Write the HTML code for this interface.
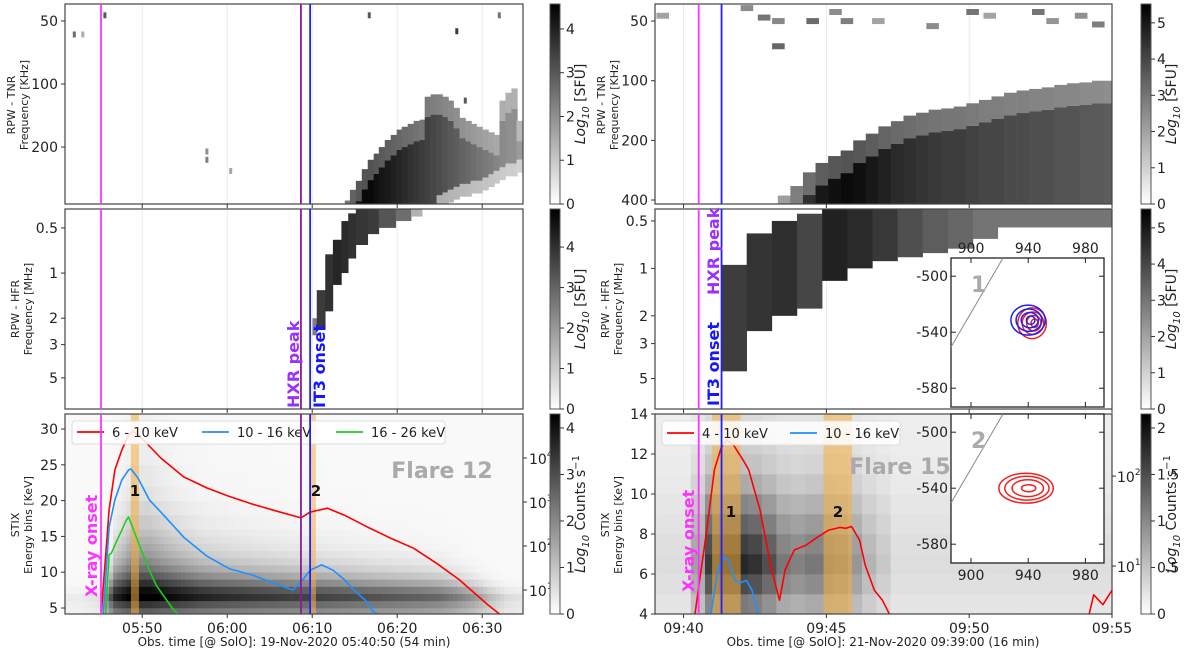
<!DOCTYPE html>
<html><head><meta charset="utf-8">
<style>
html,body{margin:0;padding:0;background:#fff;}
svg{display:block;font-family:"DejaVu Sans","Liberation Sans",sans-serif;}
</style></head>
<body>
<svg id="fig" xmlns="http://www.w3.org/2000/svg" width="1200" height="654" viewBox="0 0 1200 654"></svg>
<script>
// ---------------- DATA ----------------
const leftTimeTicks = [9.1667, 19.1667, 29.1667, 39.1667, 49.1667];
const leftTimeLabels = ["05:50","06:00","06:10","06:20","06:30"];
const rightTimeTicks = [1, 6, 11, 16];
const rightTimeLabels = ["09:40","09:45","09:50","09:55"];

const tnrLTimes = [33.0,33.6,34.3,35.0,35.7,36.4,37.0,37.7,38.4,39.1,39.7,40.4,41.1,41.8,42.4,43.1,43.8,44.5,45.1,45.8,46.5,47.2,47.8,48.5,49.2,49.9,50.5,51.2,51.9,52.6,53.2];
const tnrLTop = [360,320,290,255,230,215,200,185,175,165,160,155,150,148,115,112,112,115,120,130,145,150,155,160,165,170,175,120,110,105,150];
const tnrLBot = [374,374,374,374,374,374,374,374,374,374,374,374,374,374,374,374,340,330,320,310,300,300,290,290,280,270,260,250,240,240,230];
const tnrLVal = [3.5,4,4.3,4.4,4.4,4.3,4.2,4.1,4,3.9,3.8,3.7,3.6,3.5,3.4,3.3,3.2,3.1,3,2.9,2.8,2.7,2.6,2.5,2.4,2.3,2.2,2.1,2,2,1.8];
const tnrLSpeckT = [1.0,2.0,4.6,16.6,16.6,19.4,35.7,46.0,47.0,51.0];
const tnrLSpeckF = [58,58,47,210,230,260,47,56,120,47];
const tnrLSpeckV = [2.6,1.5,3,2,2.3,1.6,3,3.5,3,2.5];

const hfrLTimes = [29.2,29.7,30.7,31.6,32.6,33.4,34.3,35.7,37.0,39.0,40.8];
const hfrLTop = [2.0,1.3,0.75,0.6,0.45,0.4,0.374,0.374,0.374,0.374,0.374];
const hfrLBot = [2.6,2.4,1.8,1.2,1.0,0.8,0.65,0.55,0.5,0.45,0.42];
const hfrLVal = [2.5,3.8,4.0,4.2,4.1,4.0,3.9,3.8,3.3,2.8,1.5];

const stixLEdges = [4,5,6,7,8,9,10,11,12,13,14,15,16,18,20,22,25,28,32];
const stixLRowPeak = [2.6,3.3,4.3,4.0,3.4,2.8,2.3,1.9,1.6,1.4,1.2,1.0,0.8,0.6,0.4,0.3,0.2,0.15];
const stixLRowDecay = [1,1,1,1.3,1.8,2.4,3,3.6,4.2,5,5.5,6,7,8,9,10,11,12];
const stixLProfile = [0.05,0.05,0.1,0.85,1,1,0.95,0.9,0.85,0.82,0.8,0.78,0.76,0.74,0.72,0.72,0.7,0.68,0.66,0.64,0.62,0.6,0.57,0.5,0.4,0.25,0.12,0.08];

const redLT = [4.32,5.27,5.95,6.76,7.57,8.11,9.32,11.35,14.05,16.76,19.19,22.16,24.86,27.84,28.92,30.95,32.97,35.68,38.38,41.08,43.78,46.49,47.84,49.86,51.22];
const redLV = [0.4,2.82,3.73,4.18,4.52,4.61,4.41,4.0,3.57,3.32,3.14,2.95,2.80,2.64,2.77,2.86,2.70,2.43,2.18,1.95,1.61,1.23,1.0,0.66,0.45];
const blueLT = [4.59,5.27,5.95,6.76,7.57,7.84,8.65,10,11.35,14.05,16.76,19.46,22.16,24.86,26.89,27.84,28.92,30.27,31.62,32.97,34.32,35.41,36.35,37.03];
const blueLV = [0.45,2.43,3.05,3.5,3.73,3.75,3.55,3.05,2.77,2.2,1.77,1.48,1.34,1.14,1.0,1.18,1.45,1.57,1.45,1.23,0.95,0.77,0.5,0.45];
const greenLT = [4.86,5.27,5.54,6.22,6.76,7.3,7.57,8.38,9.19,10,10.81,12.03,12.7,13.38];
const greenLV = [0.45,1.8,1.84,2.14,2.36,2.59,2.66,2.25,1.84,1.45,1.11,0.77,0.59,0.45];

const tnrRTimes = [4.30,4.74,5.18,5.62,6.06,6.50,6.94,7.38,7.82,8.26,8.70,9.14,9.58,10.02,10.46,10.90,11.34,11.78,12.22,12.66,13.10,13.54,13.98,14.42,14.86,15.30,15.74];
const tnrRTop = [380,340,290,260,240,225,200,185,170,160,150,145,140,138,135,130,125,120,115,112,110,108,105,103,102,100,100];
const tnrRVal = [3,4,4.5,5,5.2,5.3,5.2,5,4.8,4.6,4.5,4.4,4.3,4.2,4.2,4.1,4.0,4.0,3.9,3.9,3.8,3.8,3.7,3.7,3.6,3.6,3.5];
const tnrRSpeckT = [0.05,3.0,3.6,4.1,4.1,5.3,6.1,6.5,7.6,9.5,10.9,11.5,13.2,13.7,14.7,15.3];
const tnrRSpeckF = [47,43,48,50,67,50,45,50,50,53,45,47,45,50,47,52];
const tnrRSpeckV = [2,2.5,3,2.6,3.3,3.2,2.5,2.8,2,2.5,3,2,3,2.3,2.4,2.8];

const hfrRTimes = [2.33,3.21,4.09,4.97,5.85,6.73,7.61,8.49,9.37,10.25,11.13,12.0];
const hfrRTop = [0.95,0.6,0.5,0.45,0.42,0.42,0.42,0.42,0.42,0.42,0.42,0.42];
const hfrRBot = [4.5,2.5,2.0,1.8,1.2,1.0,0.9,0.85,0.8,0.75,0.65,0.55];
const hfrRVal = [4.2,4.4,4.5,4.0,4.8,4.6,4.3,3.8,3.5,3.3,3.0,3.0];

const stixREdges = [4,5,6,7,8,9,10,11,12,13,14];
const stixRRowPeak = [1.0,1.4,1.7,1.5,1.2,0.9,0.6,0.4,0.3,0.2];
const stixRProfile = [0.1,0.1,0.1,0.4,0.9,1,1,0.95,0.8,0.6,0.55,0.6,0.6,0.55,0.45,0.3,0.2,0.1,0.1,0.1,0.1,0.1,0.1,0.1,0.1,0.1,0.1,0.1,0.1,0.1,0.1,0.1,0.1];

const redRT = [1.40,1.56,1.80,2.08,2.32,2.52,2.76,3.08,3.28,3.68,3.88,4.08,4.36,4.56,4.88,5.28,5.68,6.08,6.48,6.68,6.88,7.16,7.36,7.68,7.96,8.20];
const redRV = [0.467,0.84,1.37,2.07,2.32,2.4,2.34,2.18,2.07,1.62,1.29,0.96,0.62,0.96,1.18,1.23,1.32,1.4,1.43,1.42,1.44,1.29,1.01,0.73,0.62,0.47];
const redRT2 = [15.2,15.36,15.68,16.0];
const redRV2 = [0.467,0.68,0.57,0.73];
const blueRT = [1.96,2.20,2.40,2.56,2.80,2.96,3.20,3.40,3.60];
const blueRV = [0.467,0.96,1.1,1.07,0.84,0.81,0.84,0.73,0.47];

const c1RedX = 942.7, c1RedY = -533.6, c1BlueX = 939.9, c1BlueY = -531.4, c2RedX = 938.5, c2RedY = -540;
const c1RedRx = [10,7.5,5,2.5], c1RedRy = [11,8,5.5,3];
const c1BlueRx = [12,9,6,3], c1BlueRy = [10.7,8,5.5,3];
const c2RedRx = [19,15.5,11,5], c2RedRy = [10.7,8.5,6,2.5];

// ---------------- HELPERS ----------------
const NS = "http://www.w3.org/2000/svg";
const svg = document.getElementById('fig');
function el(tag, attrs, parent, txt){const e=document.createElementNS(NS,tag);for(const k in attrs)e.setAttribute(k,attrs[k]);if(txt!==undefined)e.textContent=txt;(parent||svg).appendChild(e);return e;}
function lin(d0,d1,r0,r1){return v=>r0+(v-d0)/(d1-d0)*(r1-r0);}
function logs(d0,d1,r0,r1){const a=Math.log10(d0),b=Math.log10(d1);return v=>r0+(Math.log10(v)-a)/(b-a)*(r1-r0);}
function gray(v,vmax){const g=Math.round(255*(1-Math.max(0,Math.min(v/vmax,1))));return `rgb(${g},${g},${g})`;}

const L = {x0:65, x1:523}, R = {x0:655, x1:1112};
const P1 = {y0:4,y1:204}, P2={y0:209,y1:409}, P3={y0:414,y1:614};
const xL = lin(0,54,64.3,523.3);
const xR = lin(0,16,655,1112);

function clipFor(id,x0,y0,x1,y1){const cp=el('clipPath',{id:id});el('rect',{x:x0,y:y0,width:x1-x0,height:y1-y0},cp);return `url(#${id})`;}
const defs = el('defs',{});

function frame(name,x0,y0,x1,y1){el('rect',{x:x0,y:y0,width:x1-x0,height:y1-y0,fill:'none',stroke:'#444','stroke-width':1.2,});}
function vgrid(g,xs,scale,y0,y1){xs.forEach(t=>el('line',{x1:scale(t),x2:scale(t),y1:y0,y2:y1,stroke:'#e6e6e6','stroke-width':0.8},g));}
function yTicks(name,vals,labels,scale,x0,fs){const g=el('g',{});vals.forEach((v,i)=>{const y=scale(v);el('line',{x1:x0-4,x2:x0,y1:y,y2:y,stroke:'#333'},g);el('text',{x:x0-7,y:y+5,'text-anchor':'end','font-size':fs||14,fill:'#222'},g,labels[i]);});}
function xTicks(name,vals,labels,scale,y,withLabels,x0,x1){const g=el('g',{});vals.forEach((v,i)=>{const x=scale(v);if(x<x0-1||x>x1+1)return;el('line',{x1:x,x2:x,y1:y,y2:y+4,stroke:'#333'},g);if(withLabels)el('text',{x:x,y:y+19,'text-anchor':'middle','font-size':14,fill:'#222'},g,labels[i]);});}
function ylabel(name,x,yc,lines){const g=el('g',{transform:`translate(${x},${yc}) rotate(-90)`});lines.forEach((l,i)=>el('text',{x:0,y:i*13,'text-anchor':'middle','font-size':11,fill:'#222'},g,l));}
function colorbar(name,x0,y0,y1,vmax,ticks,labelLines,lx){
  const id='cg'+name;const lg=el('linearGradient',{id:id,x1:0,y1:1,x2:0,y2:0},defs);
  el('stop',{offset:'0','stop-color':'#fff'},lg);el('stop',{offset:'1','stop-color':'#000'},lg);
  const g=el('g',{});
  el('rect',{x:x0,y:y0,width:10,height:y1-y0,fill:`url(#${id})`,stroke:'#555','stroke-width':1},g);
  const s=lin(0,vmax,y1,y0);
  ticks.forEach(t=>{const y=s(t);el('line',{x1:x0+10,x2:x0+14,y1:y,y2:y,stroke:'#333'},g);el('text',{x:x0+16,y:y+5,'font-size':14,fill:'#222'},g,String(t));});
  const tg=el('text',{transform:`translate(${lx},${(y0+y1)/2}) rotate(-90)`,'text-anchor':'middle','font-size':14,fill:'#222'},g);
  el('tspan',{'font-style':'italic'},tg,'Log');el('tspan',{'font-style':'italic','font-size':10,dy:4},tg,'10');
  el('tspan',{dy:-4},tg,labelLines[0]);
  if(labelLines[1]){el('tspan',{'font-size':10,dy:-6},tg,labelLines[1]);}
}
function vline(name,x,y0,y1,color){el('line',{x1:x,x2:x,y1:y0,y2:y1,stroke:color,'stroke-width':1.8,});}
function band(name,x0,x1,y0,y1){el('rect',{x:x0,y:y0,width:x1-x0,height:y1-y0,fill:'#f5b041','fill-opacity':0.55,});}
function curve(name,ts,vs,xs,ys,color,clip){const pts=ts.map((t,i)=>xs(t).toFixed(1)+','+ys(vs[i]).toFixed(1)).join(' ');el('polyline',{points:pts,fill:'none',stroke:color,'stroke-width':1.6,'stroke-linejoin':'round','clip-path':clip,});}
function rotText(name,x,ybottom,txt,color,fs){el('text',{transform:`translate(${x},${ybottom}) rotate(-90)`,'font-size':fs,'font-weight':'bold',fill:color,},svg,txt);}

// ---------------- LEFT TOP (TNR) ----------------
{
  const yF = logs(41.5,374,P1.y0,P1.y1);
  const clip = clipFor('cL1',L.x0,P1.y0,L.x1,P1.y1);
  const g = el('g',{'clip-path':clip,});
  vgrid(g,leftTimeTicks,xL,P1.y0,P1.y1);
  tnrLTimes.forEach((t,i)=>{const x0=xL(t),x1=xL(t+0.7);
    const ft=tnrLTop[i],fb=tnrLBot[i],fm=Math.min(ft*1.25,fb);
    el('rect',{x:x0,y:yF(ft),width:x1-x0+0.3,height:yF(fm)-yF(ft),fill:gray(tnrLVal[i]*0.7,4.57)},g);
    el('rect',{x:x0,y:yF(fm),width:x1-x0+0.3,height:yF(fb)-yF(fm),fill:gray(tnrLVal[i],4.57)},g);
    if(fb<374){el('rect',{x:x0,y:yF(fb),width:x1-x0+0.3,height:yF(Math.min(fb*1.15,374))-yF(fb),fill:gray(tnrLVal[i]*0.45,4.57)},g);}
  });
  tnrLSpeckT.forEach((t,i)=>{el('rect',{x:xL(t),y:yF(tnrLSpeckF[i])-3,width:3,height:6,fill:gray(tnrLSpeckV[i],4.57)},g);});
  frame('tnr-axes-left',L.x0,P1.y0,L.x1,P1.y1);
  yTicks('tnr-y-ticks-left',[50,100,200],['50','100','200'],yF,L.x0);
  xTicks('tnr-x-ticks-left',leftTimeTicks,leftTimeLabels,xL,P1.y1,false,L.x0,L.x1);
  ylabel('tnr-y-title-left',15,105,['RPW - TNR','Frequency [KHz]']);
  colorbar('tnr-colorbar-left',550,P1.y0,P1.y1,4.57,[0,1,2,3,4],[' [SFU]'],585);
}
// ---------------- LEFT MIDDLE (HFR) ----------------
{
  const yF = logs(0.374,8.06,P2.y0,P2.y1);
  const clip = clipFor('cL2',L.x0,P2.y0,L.x1,P2.y1);
  const g = el('g',{'clip-path':clip,});
  vgrid(g,leftTimeTicks,xL,P2.y0,P2.y1);
  hfrLTimes.forEach((t,i)=>{const tn=i<hfrLTimes.length-1?hfrLTimes[i+1]:t+1.3;const x0=xL(t),x1=xL(tn);
    el('rect',{x:x0,y:yF(hfrLTop[i]),width:x1-x0+0.3,height:yF(hfrLBot[i])-yF(hfrLTop[i]),fill:gray(hfrLVal[i],4.94)},g);});
  frame('hfr-axes-left',L.x0,P2.y0,L.x1,P2.y1);
  yTicks('hfr-y-ticks-left',[0.5,1,2,3,5],['0.5','1','2','3','5'],yF,L.x0);
  xTicks('hfr-x-ticks-left',leftTimeTicks,leftTimeLabels,xL,P2.y1,false,L.x0,L.x1);
  ylabel('hfr-y-title-left',19,309,['RPW - HFR','Frequency [MHz]']);
  colorbar('hfr-colorbar-left',550,P2.y0,P2.y1,4.94,[0,1,2,3,4],[' [SFU]'],585);
}
// ---------------- LEFT BOTTOM (STIX) ----------------
{
  const yE = lin(4.16,32.1,P3.y1,P3.y0);
  const yC = lin(0.455,5,P3.y1,P3.y0);
  const clip = clipFor('cL3',L.x0,P3.y0,L.x1,P3.y1);
  const g = el('g',{'clip-path':clip,});
  for(let c=0;c<stixLProfile.length;c++){
    for(let r=0;r<stixLRowPeak.length;r++){
      [0,0.5,1,1.5].forEach(s=>{const tt=c*2+s;const p0=stixLProfile[c],p1=stixLProfile[Math.min(c+1,stixLProfile.length-1)];const p=p0+(p1-p0)*s/2;
        const v=stixLRowPeak[r]*Math.pow(p,stixLRowDecay[r])+0.1;
        el('rect',{x:xL(tt-0.25),y:yE(stixLEdges[r+1]),width:xL(0.5)-xL(0)+0.3,height:yE(stixLEdges[r])-yE(stixLEdges[r+1])+0.3,fill:gray(v,4.3)},g);});
    }
  }
  band('band-1-left',xL(7.84),xL(8.78),P3.y0,P3.y1);
  band('band-2-left',xL(28.92),xL(29.6),P3.y0,P3.y1);
  curve('curve-6-10kev',redLT,redLV,xL,yC,'#ff0000',clip);
  curve('curve-10-16kev',blueLT,blueLV,xL,yC,'#1e90ff',clip);
  curve('curve-16-26kev',greenLT,greenLV,xL,yC,'#22cc22',clip);
  frame('stix-axes-left',L.x0,P3.y0,L.x1,P3.y1);
  yTicks('stix-y-ticks-left',[5,10,15,20,25,30],['5','10','15','20','25','30'],yE,L.x0);
  xTicks('stix-x-ticks-left',leftTimeTicks,leftTimeLabels,xL,P3.y1,true,L.x0,L.x1);
  ylabel('stix-y-title-left',19,525,['STIX','Energy bins [KeV]']);
  const rg=el('g',{});
  [1,2,3,4].forEach(n=>{const y=yC(n);el('line',{x1:L.x1,x2:L.x1+4,y1:y,y2:y,stroke:'#333'},rg);const t=el('text',{x:L.x1+6,y:y+6,'font-size':14,fill:'#222'},rg,'10');el('tspan',{'font-size':9,dy:-7},t,String(n));});
  colorbar('stix-colorbar-left',550,P3.y0,P3.y1,4.3,[0,1,2,3,4],[' Counts s',"\u22121"],585);
  el('text',{x:294,y:646,'text-anchor':'middle','font-size':12,fill:'#222',},svg,'Obs. time [@ SolO]: 19-Nov-2020 05:40:50 (54 min)');
  const lg=el('g',{});
  el('rect',{x:72,y:421,width:373,height:23,rx:3,fill:'#fff','fill-opacity':0.85,stroke:'#ddd'},lg);
  [['6 - 10 keV','#ff0000',77],['10 - 16 keV','#1e90ff',202],['16 - 26 keV','#22cc22',336]].forEach(e=>{
    const eg=el('g',{},lg);
    el('line',{x1:e[2],x2:e[2]+27,y1:432,y2:432,stroke:e[1],'stroke-width':1.8},eg);
    el('text',{x:e[2]+35,y:437,'font-size':13,fill:'#222'},eg,e[0]);});
  el('text',{x:442,y:478,'text-anchor':'middle','font-size':22,'font-weight':'bold',fill:'#aaa',},svg,'Flare 12');
  el('text',{x:135,y:496,'text-anchor':'middle','font-size':15,'font-weight':'bold',fill:'#111',},svg,'1');
  el('text',{x:316,y:496,'text-anchor':'middle','font-size':15,'font-weight':'bold',fill:'#111',},svg,'2');
}
[P1,P2,P3].forEach(p=>{vline('xray-onset-line-left',xL(4.32),p.y0,p.y1,'#ff33ff');vline('hxr-peak-line-left',xL(27.84),p.y0,p.y1,'#8b1a9b');vline('it3-onset-line-left',xL(28.92),p.y0,p.y1,'#2020ff');});
rotText('hxr-peak-label-left',299,408,'HXR peak','#9a30ff',16);
rotText('it3-onset-label-left',325,408,'IT3 onset','#1515ff',16);
rotText('xray-onset-label-left',97,597,'X-ray onset','#ff33ff',16);

// ---------------- RIGHT TOP (TNR) ----------------
{
  const yF = logs(41,419,P1.y0,P1.y1);
  const clip = clipFor('cR1',R.x0,P1.y0,R.x1,P1.y1);
  const g = el('g',{'clip-path':clip,});
  vgrid(g,rightTimeTicks,xR,P1.y0,P1.y1);
  tnrRTimes.forEach((t,i)=>{const x0=xR(t),x1=xR(t+0.44);const ft=tnrRTop[i],fm=Math.min(ft*1.3,419);
    el('rect',{x:x0,y:yF(ft),width:x1-x0+0.3,height:yF(fm)-yF(ft),fill:gray(tnrRVal[i]*0.7,5.52)},g);
    el('rect',{x:x0,y:yF(fm),width:x1-x0+0.3,height:yF(419)-yF(fm),fill:gray(tnrRVal[i],5.52)},g);});
  tnrRSpeckT.forEach((t,i)=>{el('rect',{x:xR(t),y:yF(tnrRSpeckF[i])-3,width:xR(0.44)-xR(0),height:6,fill:gray(tnrRSpeckV[i],5.52)},g);});
  frame('tnr-axes-right',R.x0,P1.y0,R.x1,P1.y1);
  yTicks('tnr-y-ticks-right',[50,100,200,400],['50','100','200','400'],yF,R.x0);
  xTicks('tnr-x-ticks-right',rightTimeTicks,rightTimeLabels,xR,P1.y1,false,R.x0,R.x1);
  ylabel('tnr-y-title-right',605,105,['RPW - TNR','Frequency [KHz]']);
  colorbar('tnr-colorbar-right',1141,P1.y0,P1.y1,5.52,[0,1,2,3,4,5],[' [SFU]'],1176);
}
// ---------------- RIGHT MIDDLE (HFR) ----------------
{
  const yF = logs(0.42,7.8,P2.y0,P2.y1);
  const clip = clipFor('cR2',R.x0,P2.y0,R.x1,P2.y1);
  const g = el('g',{'clip-path':clip,});
  vgrid(g,rightTimeTicks,xR,P2.y0,P2.y1);
  hfrRTimes.forEach((t,i)=>{const tn=i<hfrRTimes.length-1?hfrRTimes[i+1]:16;const x0=xR(t),x1=xR(tn);
    el('rect',{x:x0,y:yF(hfrRTop[i]),width:x1-x0+0.3,height:yF(hfrRBot[i])-yF(hfrRTop[i]),fill:gray(hfrRVal[i],5.52)},g);});
  frame('hfr-axes-right',R.x0,P2.y0,R.x1,P2.y1);
  yTicks('hfr-y-ticks-right',[0.5,1,2,3,5],['0.5','1','2','3','5'],yF,R.x0);
  xTicks('hfr-x-ticks-right',rightTimeTicks,rightTimeLabels,xR,P2.y1,false,R.x0,R.x1);
  ylabel('hfr-y-title-right',609,309,['RPW - HFR','Frequency [MHz]']);
  colorbar('hfr-colorbar-right',1141,P2.y0,P2.y1,5.52,[0,1,2,3,4,5],[' [SFU]'],1176);
}
// ---------------- RIGHT BOTTOM (STIX) ----------------
{
  const yE = lin(4,14,P3.y1,P3.y0);
  const yC = lin(0.467,2.69,P3.y1,P3.y0);
  const clip = clipFor('cR3',R.x0,P3.y0,R.x1,P3.y1);
  const g = el('g',{'clip-path':clip,});
  stixRProfile.forEach((p,c)=>{stixRRowPeak.forEach((rp,r)=>{const v=rp*p+0.12;
    el('rect',{x:xR(c*0.5-0.25),y:yE(stixREdges[r+1]),width:xR(0.5)-xR(0)+0.3,height:yE(stixREdges[r])-yE(stixREdges[r+1])+0.3,fill:gray(v,2.15)},g);});});
  band('band-1-right',xR(2.0),xR(3.0),P3.y0,P3.y1);
  band('band-2-right',xR(5.9),xR(6.9),P3.y0,P3.y1);
  curve('curve-4-10kev',redRT,redRV,xR,yC,'#ff0000',clip);
  curve('curve-4-10kev-late',redRT2,redRV2,xR,yC,'#ff0000',clip);
  curve('curve-10-16kev-right',blueRT,blueRV,xR,yC,'#1e90ff',clip);
  frame('stix-axes-right',R.x0,P3.y0,R.x1,P3.y1);
  yTicks('stix-y-ticks-right',[4,6,8,10,12,14],['4','6','8','10','12','14'],yE,R.x0);
  xTicks('stix-x-ticks-right',rightTimeTicks,rightTimeLabels,xR,P3.y1,true,R.x0,R.x1+2);
  ylabel('stix-y-title-right',609,525,['STIX','Energy bins [KeV]']);
  const rg=el('g',{});
  [1,2].forEach(n=>{const y=yC(n);el('line',{x1:R.x1,x2:R.x1+4,y1:y,y2:y,stroke:'#333'},rg);const t=el('text',{x:R.x1+5,y:y+6,'font-size':14,fill:'#222'},rg,'10');el('tspan',{'font-size':9,dy:-7},t,String(n));});
  colorbar('stix-colorbar-right',1141,P3.y0,P3.y1,2.15,[0,0.5,1,1.5,2],[' Counts s',"\u22121"],1176);
  el('text',{x:883,y:646,'text-anchor':'middle','font-size':12,fill:'#222',},svg,'Obs. time [@ SolO]: 21-Nov-2020 09:39:00 (16 min)');
  const lg=el('g',{});
  el('rect',{x:662,y:421,width:238,height:24,rx:3,fill:'#fff','fill-opacity':0.85,stroke:'#ddd'},lg);
  [['4 - 10 keV','#ff0000',667],['10 - 16 keV','#1e90ff',790]].forEach(e=>{
    const eg=el('g',{},lg);
    el('line',{x1:e[2],x2:e[2]+27,y1:433,y2:433,stroke:e[1],'stroke-width':1.8},eg);
    el('text',{x:e[2]+35,y:438,'font-size':13,fill:'#222'},eg,e[0]);});
  el('text',{x:900,y:474,'text-anchor':'middle','font-size':22,'font-weight':'bold',fill:'#aaa',},svg,'Flare 15');
  el('text',{x:731,y:517,'text-anchor':'middle','font-size':15,'font-weight':'bold',fill:'#111',},svg,'1');
  el('text',{x:838,y:517,'text-anchor':'middle','font-size':15,'font-weight':'bold',fill:'#111',},svg,'2');
}
[P1,P2,P3].forEach(p=>{vline('xray-onset-line-right',xR(1.53),p.y0,p.y1,'#ff33ff');vline('it3-onset-line-right',xR(2.33),p.y0,p.y1,'#2020ff');});
rotText('hxr-peak-label-right',719,295,'HXR peak','#9a30ff',16);
rotText('it3-onset-label-right',719,406,'IT3 onset','#1515ff',16);
rotText('xray-onset-label-right',694,592,'X-ray onset','#ff33ff',16);

// ---------------- INSETS ----------------
function inset(name,y0,y1,xLabelsTop,rings,num){
  const x0=951,x1=1104;
  const sx=lin(886,993,x0,x1);
  const syy=v=>y0+(-487-v)*1.4;
  const g=el('g',{});
  el('rect',{x:x0,y:y0,width:x1-x0,height:y1-y0,fill:'#fff',stroke:'#222','stroke-width':1.3},g);
  el('line',{x1:x0,y1:y0+89,x2:x0+52,y2:y0,stroke:'#888','stroke-width':1},g);
  el('text',{x:x0+20,y:y0+34,'font-size':22,'font-weight':'bold',fill:'#aaa'},g,num);
  [900,940,980].forEach(v=>{const x=sx(v);el('line',{x1:x,x2:x,y1:y0,y2:y0+5,stroke:'#222'},g);el('line',{x1:x,x2:x,y1:y1,y2:y1-5,stroke:'#222'},g);
    el('text',{x:x,y:xLabelsTop?y0-5:y1+17,'text-anchor':'middle','font-size':14,fill:'#222'},g,String(v));});
  [-500,-540,-580].forEach(v=>{const y=syy(v);el('line',{x1:x0,x2:x0+5,y1:y,y2:y,stroke:'#222'},g);el('line',{x1:x1,x2:x1-5,y1:y,y2:y,stroke:'#222'},g);
    el('text',{x:x0-3,y:y+5,'text-anchor':'end','font-size':14,fill:'#222'},g,String(v));});
  rings.forEach(r=>{r.rx.forEach((rx,i)=>{
    const e=el('ellipse',{cx:sx(r.cx+i*0.6),cy:syy(r.cy),rx:rx*1.43,ry:r.ry[i]*1.4,fill:'none',stroke:r.color,'stroke-width':1.5},g);
    
    });});
}
inset('inset-image-1',258,407,true,[{cx:c1RedX,cy:c1RedY,rx:c1RedRx,ry:c1RedRy,color:'#ee2222'},{cx:c1BlueX,cy:c1BlueY,rx:c1BlueRx,ry:c1BlueRy,color:'#1f1fee'}],'1');
inset('inset-image-2',414,563,false,[{cx:c2RedX,cy:c2RedY,rx:c2RedRx,ry:c2RedRy,color:'#ee2222'}],'2');
</script>
</body></html>
